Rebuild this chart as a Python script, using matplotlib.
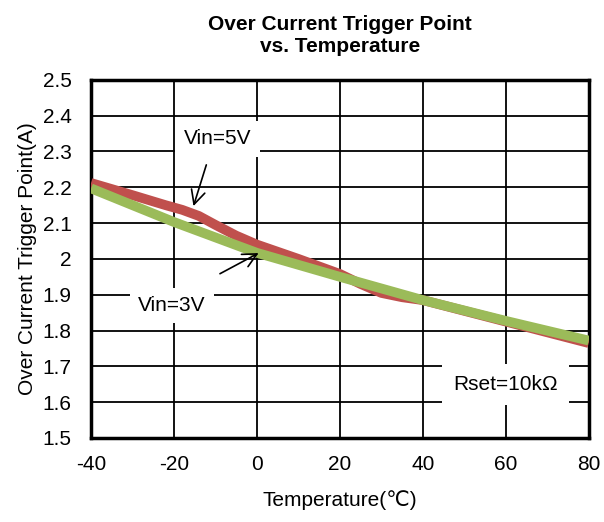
import matplotlib
matplotlib.use("Agg")
import matplotlib.pyplot as plt

plt.rcParams['font.family'] = ['Liberation Sans', 'DejaVu Sans', 'Noto Sans CJK SC']
plt.rcParams['axes.unicode_minus'] = False

temp_5v = [-40, -30, -22, -18, -14, -10, -5, 0, 10, 20, 25, 30, 35, 40, 60, 80]
oc_5v = [2.212, 2.178, 2.15, 2.137, 2.12, 2.095, 2.065, 2.04, 2.0, 1.958, 1.93, 1.905, 1.893, 1.885, 1.825, 1.765]

temp_3v = [-40, -20, 0, 20, 40, 60, 80]
oc_3v = [2.197, 2.103, 2.017, 1.95, 1.885, 1.827, 1.772]

xticks = [-40, -20, 0, 20, 40, 60, 80]
yticks = [1.5, 1.6, 1.7, 1.8, 1.9, 2.0, 2.1, 2.2, 2.3, 2.4, 2.5]
ytick_labels = ["1.5", "1.6", "1.7", "1.8", "1.9", "2", "2.1", "2.2", "2.3", "2.4", "2.5"]

fig = plt.figure(figsize=(6.04, 5.22), dpi=100)
ax = fig.add_axes([0.1507, 0.161, 0.824, 0.686])

ax.plot(temp_5v, oc_5v, color="#c0504d", linewidth=7, solid_capstyle="butt",
        solid_joinstyle="round", zorder=3)
ax.plot(temp_3v, oc_3v, color="#9bbb59", linewidth=7, solid_capstyle="butt",
        solid_joinstyle="round", zorder=4)

ax.set_xlim(-40, 80)
ax.set_ylim(1.5, 2.5)
ax.set_xticks(xticks)
ax.set_yticks(yticks)
ax.set_yticklabels(ytick_labels)
ax.tick_params(length=0, labelsize=15)
ax.tick_params(axis="y", pad=14)
ax.tick_params(axis="x", pad=12)
ax.grid(True, color="black", linewidth=1.3)
ax.set_axisbelow(True)
for s in ax.spines.values():
    s.set_linewidth(2.5)
    s.set_color("black")

ax.set_title("Over Current Trigger Point\nvs. Temperature", fontsize=15,
             fontweight="bold", pad=20)
ax.set_xlabel("Temperature(℃)", fontsize=15, labelpad=12)
ax.set_ylabel("Over Current Trigger Point(A)", fontsize=15, labelpad=4)

box = dict(facecolor="white", edgecolor="none", pad=6)
ax.text(-9.5, 2.335, "Vin=5V", fontsize=15, ha="center", va="center", bbox=box, zorder=5)
ax.text(-20.5, 1.87, "Vin=3V", fontsize=15, ha="center", va="center", bbox=box, zorder=5)
ax.text(60, 1.65, "Rset=10kΩ", fontsize=15, ha="center", va="center",
        bbox=dict(facecolor="white", edgecolor="none", pad=8), zorder=5)

ax.annotate("", xy=(-15.5, 2.14), xytext=(-12, 2.27),
            arrowprops=dict(arrowstyle="->", color="black", lw=1.2, mutation_scale=25), zorder=6)
ax.annotate("", xy=(1, 2.02), xytext=(-9.5, 1.955),
            arrowprops=dict(arrowstyle="->", color="black", lw=1.2, mutation_scale=25), zorder=6)

fig.savefig("out.png", dpi=100)
